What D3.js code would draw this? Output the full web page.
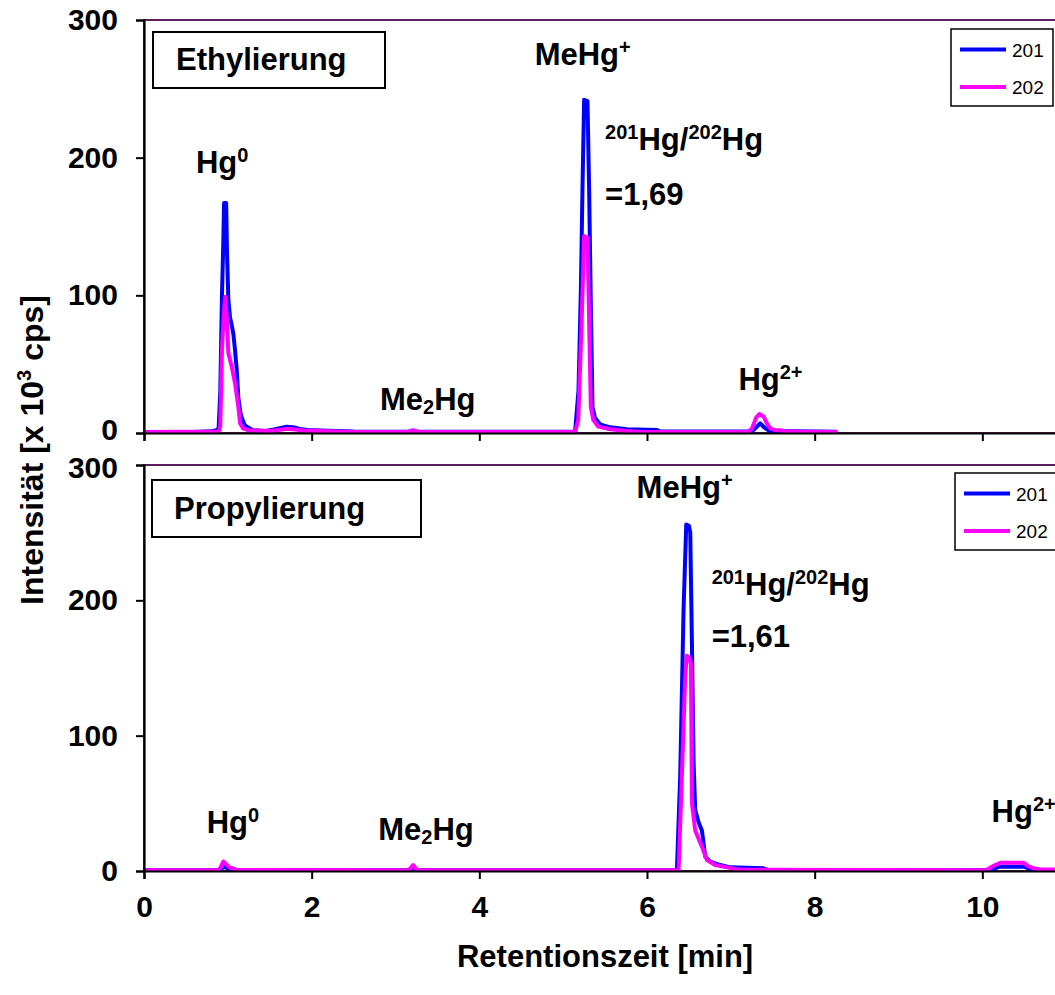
<!DOCTYPE html>
<html>
<head>
<meta charset="utf-8">
<script src="https://cdn.jsdelivr.net/npm/d3@7"></script>
<style>
  body { margin: 0; background: #fff; }
  svg { display: block; }
  text { font-family: "Liberation Sans", Arial, Helvetica, sans-serif; }
</style>
</head>
<body>
<svg id="chart" width="1055" height="995"></svg>
<script>
// ---- data -------------------------------------------------------------
// Retention time [min] and intensity [x 10^3 cps] for the two isotopes.
const timeTicks = [0, 2, 4, 6, 8, 10];
const intensityTicks = [0, 100, 200, 300];
const isotopes = ["201", "202"];
const panelTitles = ["Ethylierung", "Propylierung"];
const ratioLabels = ["=1,69", "=1,61"];

// Ethylation, 201Hg trace [time, intensity]
const ethyl201 = [
  [0, 0.8], [0.6, 0.8], [0.8, 1.2], [0.86, 2], [0.89, 3], [0.91, 30], [0.93, 100],
  [0.946, 138], [0.955, 167], [0.98, 167], [0.99, 132], [1.006, 97], [1.026, 84],
  [1.047, 78], [1.066, 72], [1.086, 60], [1.106, 46], [1.125, 26], [1.146, 16],
  [1.166, 11], [1.2, 6], [1.226, 4.6], [1.3, 2], [1.45, 1.5], [1.55, 2.5], [1.62, 3.5],
  [1.7, 4.5], [1.78, 4.2], [1.86, 3], [1.95, 2.2], [2.2, 1.6], [2.5, 1], [3.15, 0.9],
  [3.21, 1.5], [3.27, 0.9], [5.12, 0.9], [5.143, 1.5], [5.183, 31], [5.211, 104],
  [5.23, 176], [5.25, 242], [5.29, 241], [5.31, 176], [5.33, 92], [5.35, 19],
  [5.38, 10.8], [5.44, 6.3], [5.56, 4.1], [5.76, 2.7], [6.12, 2.2], [6.16, 1],
  [7.25, 1], [7.3, 4], [7.35, 7], [7.4, 4], [7.46, 1.5], [8.27, 0.9]
];
// Ethylation, 202Hg trace
const ethyl202 = [
  [0, 0.8], [0.89, 1], [0.91, 5], [0.93, 60], [0.946, 80], [0.967, 99], [0.987, 84],
  [1.006, 58], [1.047, 48], [1.086, 36], [1.125, 19], [1.146, 7], [1.18, 3.4],
  [1.25, 2], [1.5, 1.5], [1.6, 2.2], [1.7, 3], [1.8, 2.6], [1.9, 1.8], [2.2, 1.2],
  [2.5, 0.8], [3.15, 0.8], [3.21, 2], [3.27, 0.8], [5.12, 0.8], [5.143, 1],
  [5.18, 9.4], [5.22, 80], [5.25, 143], [5.29, 142], [5.31, 80], [5.33, 19],
  [5.36, 9.4], [5.42, 4.6], [5.56, 2.7], [5.76, 1.5], [5.95, 0.8], [7.2, 0.8],
  [7.25, 3], [7.3, 11], [7.34, 13.8], [7.39, 12], [7.43, 7], [7.47, 3.4], [7.53, 2],
  [7.59, 2], [7.65, 1], [8.27, 0.8]
];
// Propylation, 201Hg trace
const propyl201 = [
  [0, 0.6], [0.9, 0.6], [0.93, 2], [0.96, 3], [1.0, 2], [1.05, 1], [1.1, 0.6],
  [3.15, 0.6], [3.21, 1.5], [3.27, 0.6], [6.34, 0.6], [6.357, 1], [6.396, 70],
  [6.436, 193], [6.468, 256], [6.5, 255], [6.516, 250], [6.536, 168], [6.555, 82],
  [6.575, 45], [6.615, 36], [6.655, 30], [6.695, 10.6], [6.754, 6.9], [6.874, 4.4],
  [6.993, 2.7], [7.39, 2], [7.45, 0.6], [10.1, 0.6], [10.15, 2], [10.2, 3.2],
  [10.5, 3.2], [10.56, 1.5], [10.6, 0.6], [12, 0.6]
];
// Propylation, 202Hg trace
const propyl202 = [
  [0, 0.6], [0.88, 0.6], [0.907, 2], [0.946, 7], [0.98, 5], [1.02, 2.5], [1.06, 2],
  [1.106, 0.8], [3.15, 0.6], [3.18, 2], [3.21, 4.4], [3.24, 2], [3.27, 0.6],
  [6.36, 0.6], [6.377, 1], [6.416, 70], [6.456, 144], [6.476, 159], [6.51, 157],
  [6.524, 153], [6.536, 50], [6.575, 30], [6.655, 18], [6.715, 8.1], [6.814, 4.4],
  [6.954, 2.7], [7.1, 1], [10.0, 0.6], [10.056, 1], [10.14, 4], [10.215, 6.1],
  [10.49, 6.1], [10.55, 3.5], [10.61, 2], [10.7, 1.2], [12, 0.6]
];

// Peak labels: text pieces ("sup"/"sub" mark raised or lowered parts), anchored at [time, intensity]
const ethylLabels = [
  { at: [0.62, 189], parts: [["Hg"], ["0", "sup"]] },
  { at: [4.66, 267], parts: [["MeHg"], ["+", "sup"]] },
  { at: [5.50, 205.6], parts: [["201", "sup"], ["Hg/"], ["202", "sup"], ["Hg"]] },
  { at: [5.50, 165.6], parts: [[ratioLabels[0]]] },
  { at: [2.815, 16.7], parts: [["Me"], ["2", "sub"], ["Hg"]] },
  { at: [7.09, 31.2], parts: [["Hg"], ["2+", "sup"]] }
];
const propylLabels = [
  { at: [0.748, 27.9], parts: [["Hg"], ["0", "sup"]] },
  { at: [2.794, 22.9], parts: [["Me"], ["2", "sub"], ["Hg"]] },
  { at: [5.876, 275.4], parts: [["MeHg"], ["+", "sup"]] },
  { at: [6.771, 203.9], parts: [["201", "sup"], ["Hg/"], ["202", "sup"], ["Hg"]] },
  { at: [6.771, 165.7], parts: [[ratioLabels[1]]] },
  { at: [10.11, 36.4], parts: [["Hg"], ["2+", "sup"]] }
];

// ---- layout -----------------------------------------------------------
const colors = { "201": "#0000ff", "202": "#ff00ff" };
const plotLeft = 144, plotRight = 1150;
const panels = [
  { top: 20, bottom: 433, traces: [ethyl201, ethyl202], labels: ethylLabels,
    title: panelTitles[0], titleBox: { x: 9, y: 12, w: 232, h: 56, tx: 32, ty: 49.5 },
    legendBox: { x: 807, y: 9, w: 102, h: 77 }, tickLabels: false },
  { top: 465, bottom: 871, traces: [propyl201, propyl202], labels: propylLabels,
    title: panelTitles[1], titleBox: { x: 8, y: 15, w: 269, h: 57, tx: 30, ty: 53.5 },
    legendBox: { x: 811, y: 8, w: 110, h: 77 }, tickLabels: true }
];

const svg = d3.select("#chart");
const x = d3.scaleLinear().domain([0, 12]).range([plotLeft, plotRight]);

const BIG = 31, SMALL = 20, TICK = 30;

function drawLabel(g, lab, xs, ys) {
  const t = g.append("text")
    .attr("x", xs(lab.at[0])).attr("y", ys(lab.at[1]))
    .attr("font-weight", "bold").attr("font-size", BIG).attr("fill", "#000");
  let shift = 0;
  lab.parts.forEach(([str, kind]) => {
    const target = kind === "sup" ? -11 : kind === "sub" ? 4 : 0;
    t.append("tspan")
      .attr("dy", target - shift)
      .attr("font-size", kind ? SMALL : BIG)
      .text(str);
    shift = target;
  });
}

panels.forEach((p, i) => {
  const y = d3.scaleLinear().domain([0, 300]).range([p.bottom, p.top]);
  const g = svg.append("g");

  // frame of plot area
  g.append("rect")
    .attr("x", plotLeft).attr("y", p.top)
    .attr("width", plotRight - plotLeft).attr("height", p.bottom - p.top)
    .attr("fill", "none").attr("stroke", "#5a1f5a").attr("stroke-width", 2);

  // traces
  const clipId = "clip" + i;
  g.append("clipPath").attr("id", clipId).append("rect")
    .attr("x", plotLeft).attr("y", p.top - 2)
    .attr("width", plotRight - plotLeft).attr("height", p.bottom - p.top + 2);
  const line = d3.line().x(d => x(d[0])).y(d => y(d[1]));
  p.traces.forEach((trace, k) => {
    g.append("path")
      .datum(trace)
      .attr("clip-path", `url(#${clipId})`)
      .attr("fill", "none")
      .attr("stroke", colors[isotopes[k]])
      .attr("stroke-width", 4)
      .attr("stroke-linejoin", "round")
      .attr("d", line);
  });

  // axes
  const yAxis = d3.axisLeft(y).tickValues(intensityTicks).tickSize(8).tickPadding(18);
  const gy = g.append("g").attr("transform", `translate(${plotLeft},0)`).call(yAxis);
  const xAxis = d3.axisBottom(x).tickValues(timeTicks).tickSize(8).tickPadding(17);
  if (!p.tickLabels) xAxis.tickFormat("");
  const gx = g.append("g").attr("transform", `translate(0,${p.bottom})`).call(xAxis);
  [gx, gy].forEach(a => {
    a.select(".domain").attr("stroke", "#000").attr("stroke-width", 2.2);
    a.selectAll(".tick line").attr("stroke", "#000").attr("stroke-width", 2);
    a.selectAll(".tick text")
      .attr("fill", "#000").attr("font-size", TICK).attr("font-weight", "bold")
      .attr("font-family", "'Liberation Sans', Arial, sans-serif");
  });
  gx.selectAll(".tick text").attr("dy", "0.7em");
  // keep the stacked "0" / "300" labels at the panel joint apart
  gy.selectAll(".tick text")
    .attr("dy", d => (i === 0 && d === 0) ? "0.22em" : (i === 1 && d === 300) ? "0.42em" : "0.32em");

  // panel title in a box
  const tb = p.titleBox;
  g.append("rect")
    .attr("x", plotLeft + tb.x).attr("y", p.top + tb.y)
    .attr("width", tb.w).attr("height", tb.h)
    .attr("fill", "#fff").attr("stroke", "#000").attr("stroke-width", 2);
  g.append("text")
    .attr("x", plotLeft + tb.tx).attr("y", p.top + tb.ty)
    .attr("font-size", BIG).attr("font-weight", "bold")
    .text(p.title);

  // legend
  const lb = p.legendBox;
  const lg = g.append("g").attr("transform", `translate(${plotLeft + lb.x},${p.top + lb.y})`);
  lg.append("rect").attr("width", lb.w).attr("height", lb.h)
    .attr("fill", "#fff").attr("stroke", "#000").attr("stroke-width", 1.5);
  isotopes.forEach((iso, k) => {
    const yy = 20.5 + k * 37.5;
    lg.append("line").attr("x1", 9).attr("x2", 55).attr("y1", yy).attr("y2", yy)
      .attr("stroke", colors[iso]).attr("stroke-width", 4);
    lg.append("text").attr("x", 61).attr("y", yy + 7)
      .attr("font-size", 19).attr("fill", "#000").text(iso);
  });

  // peak labels
  p.labels.forEach(lab => drawLabel(g, lab, x, y));
});

// axis titles
svg.append("text")
  .attr("transform", `translate(43,450) rotate(-90)`)
  .attr("text-anchor", "middle")
  .attr("font-size", 32).attr("font-weight", "bold")
  .call(t => {
    t.append("tspan").text("Intensität [x 10");
    t.append("tspan").attr("font-size", 20).attr("dy", -12).text("3");
    t.append("tspan").attr("dy", 12).text(" cps]");
  });

svg.append("text")
  .attr("x", x(5.5)).attr("y", 967)
  .attr("text-anchor", "middle")
  .attr("font-size", BIG).attr("font-weight", "bold")
  .text("Retentionszeit [min]");
</script>
</body>
</html>
